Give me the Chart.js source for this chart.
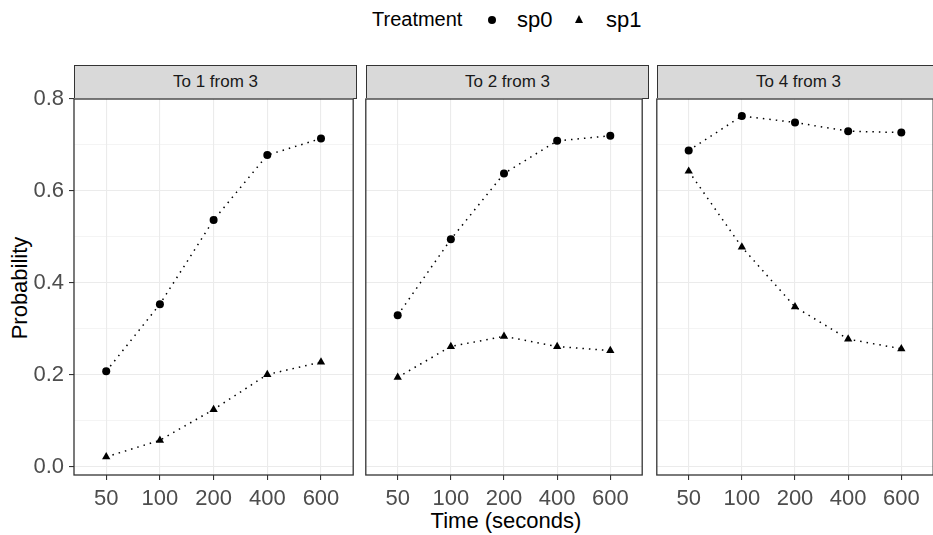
<!DOCTYPE html>
<html>
<head>
<meta charset="utf-8">
<script src="https://cdn.jsdelivr.net/npm/chart.js@4"></script>
<style>
  html, body { margin: 0; padding: 0; background: #fff; overflow: hidden; }
  body { width: 933px; height: 535px; position: relative; font-family: "Liberation Sans", Arial, sans-serif; }
  .abs { position: absolute; }
  .strip { position: absolute; top: 65px; height: 34px; box-sizing: border-box; background: #D9D9D9;
           border: 1.3px solid #333; color: #1A1A1A; font-size: 17px; text-align: center; line-height: 32px; }
  .legtxt { position: absolute; top: 7px; color: #000; white-space: nowrap; }
</style>
</head>
<body>

<div class="legtxt" style="left:372px;font-size:20px;top:8px;">Treatment</div>
<div class="abs" style="left:488px;top:16px;width:8px;height:8px;border-radius:50%;background:#000;"></div>
<div class="legtxt" style="left:517px;font-size:22px;">sp0</div>
<div class="abs" style="left:575px;top:15px;width:0;height:0;border-left:4.5px solid transparent;border-right:4.5px solid transparent;border-bottom:8px solid #000;"></div>
<div class="legtxt" style="left:606px;font-size:22px;">sp1</div>

<div class="abs" style="left:-40px;top:275px;width:120px;text-align:center;font-size:22px;transform:rotate(-90deg);color:#000;">Probability</div>
<div class="abs" style="left:406px;top:508px;width:200px;text-align:center;font-size:22px;color:#000;">Time (seconds)</div>

<script>
// categories on the x axis (discrete)
const timeLabels = ["50", "100", "200", "400", "600"];
// facet titles
const panels = ["To 1 from 3", "To 2 from 3", "To 4 from 3"];
// probabilities per facet, Treatment sp0
const sp0 = [
  [0.208, 0.354, 0.537, 0.678, 0.714],
  [0.330, 0.495, 0.638, 0.709, 0.720],
  [0.688, 0.763, 0.749, 0.730, 0.727]
];
// probabilities per facet, Treatment sp1
const sp1 = [
  [0.022, 0.058, 0.125, 0.201, 0.228],
  [0.195, 0.262, 0.284, 0.262, 0.253],
  [0.643, 0.478, 0.348, 0.278, 0.257]
];
const yTicks = [0, 0.1, 0.2, 0.3, 0.4, 0.5, 0.6, 0.7, 0.8];
const yMajor = [0, 0.2, 0.4, 0.6, 0.8];

// panel boxes in page pixels
const panelLeft = [74, 366, 657];
const panelW = 282;
const panelTop = 99, panelH = 376;

const isMajor = v => yMajor.some(m => Math.abs(m - v) < 1e-6);

const borderPlugin = {
  id: 'panelBorder',
  afterDraw(chart) {
    const a = chart.chartArea, c = chart.ctx;
    c.save();
    c.strokeStyle = '#333';
    c.lineWidth = 1.3;
    c.strokeRect(a.left, a.top, a.right - a.left, a.bottom - a.top);
    c.restore();
  }
};

const noPad = s => { s.paddingTop = 0; s.paddingBottom = 0; s.paddingLeft = 0; s.paddingRight = 0; };

panels.forEach((title, i) => {
  const first = i === 0;
  const yW = first ? 74 : 0;
  const padL = first ? 0 : 2;
  const padT = 19;
  let cW = yW + padL + panelW + 2;
  let cH = padT + panelH + 60;

  const strip = document.createElement('div');
  strip.className = 'strip';
  strip.style.left = panelLeft[i] + 'px';
  strip.style.width = (panelW + 1) + 'px';
  strip.textContent = title;
  document.body.appendChild(strip);

  const cv = document.createElement('canvas');
  cv.width = cW; cv.height = cH;
  cv.style.position = 'absolute';
  document.body.appendChild(cv);

  const line = {
    borderColor: '#000', borderWidth: 1.5, borderDash: [1.5, 5],
    backgroundColor: '#000', pointBorderColor: '#000', pointBorderWidth: 0,
    showLine: true, tension: 0, clip: false
  };

  const chart = new Chart(cv.getContext('2d'), {
    type: 'scatter',
    data: {
      datasets: [
        Object.assign({ label: 'sp0', data: sp0[i].map((v, k) => ({ x: k, y: v })),
          pointStyle: 'circle', pointRadius: 4 }, line),
        Object.assign({ label: 'sp1', data: sp1[i].map((v, k) => ({ x: k, y: v })),
          pointStyle: 'triangle', pointRadius: 4.8 }, line)
      ]
    },
    options: {
      responsive: false,
      animation: false,
      layout: { padding: { left: padL, right: 2, top: padT, bottom: 0 } },
      plugins: { legend: { display: false }, tooltip: { enabled: false } },
      scales: {
        x: {
          type: 'linear', min: -0.6, max: 4.6,
          afterBuildTicks: s => { s.ticks = timeLabels.map((t, k) => ({ value: k })); },
          afterFit: s => { s.height = 60; noPad(s); },
          ticks: {
            callback: v => timeLabels[v],
            color: '#4D4D4D', padding: 6, maxRotation: 0, autoSkip: false,
            font: { family: 'Liberation Sans, Arial', size: 22 }
          },
          grid: { color: '#EBEBEB', lineWidth: 1.1, tickColor: '#333', tickLength: 5, tickWidth: 1.1 },
          border: { display: false }
        },
        y: {
          min: -0.0174, max: 0.8,
          afterBuildTicks: s => { s.ticks = yTicks.map(v => ({ value: v })); },
          afterFit: s => { s.width = yW; noPad(s); },
          ticks: {
            display: first,
            callback: v => isMajor(v) ? v.toFixed(1) : '',
            color: '#4D4D4D', padding: 5, autoSkip: false,
            font: { family: 'Liberation Sans, Arial', size: 22 }
          },
          grid: {
            color: '#EBEBEB',
            lineWidth: c => isMajor(c.tick.value) ? 1.1 : 0.55,
            drawTicks: first,
            tickLength: 5,
            tickColor: c => isMajor(c.tick.value) ? '#333' : 'rgba(0,0,0,0)',
            tickWidth: 1.1
          },
          border: { display: false }
        }
      }
    },
    plugins: [borderPlugin]
  });

  // fit the plot area to the panel box, then place the canvas
  let a = chart.chartArea;
  const dW = panelW - (a.right - a.left), dH = panelH - (a.bottom - a.top);
  if (dW || dH) { cW += dW; cH += dH; chart.resize(cW, cH); a = chart.chartArea; }
  cv.style.left = (panelLeft[i] - a.left) + 'px';
  cv.style.top = (panelTop - a.top) + 'px';
});
</script>
</body>
</html>
